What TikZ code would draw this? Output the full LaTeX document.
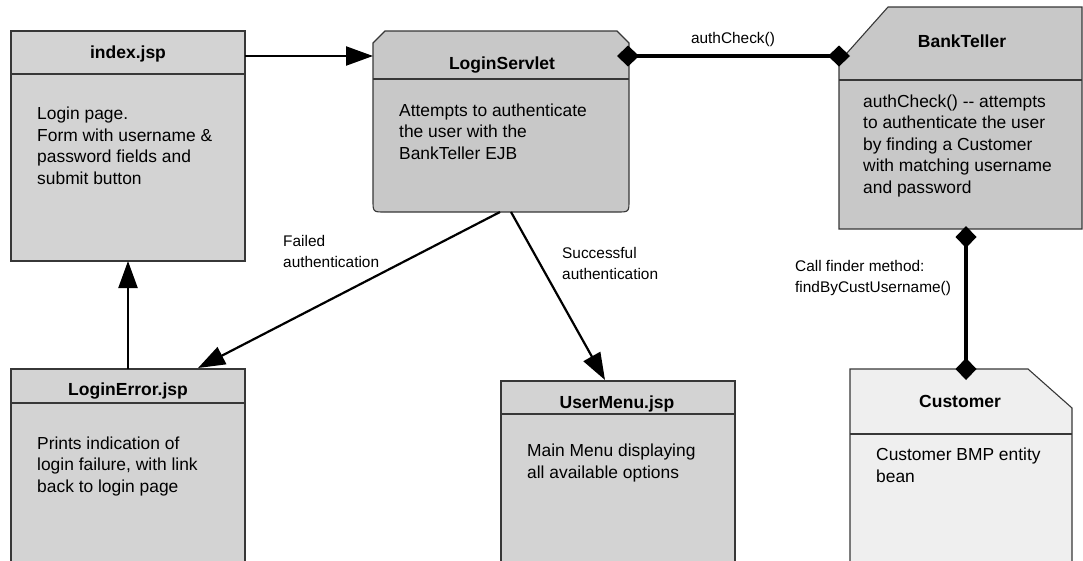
\documentclass[tikz,border=0pt]{standalone}
\usepackage{fontspec}
\setmainfont{Liberation Sans}
\usetikzlibrary{arrows.meta,calc}
\definecolor{boxA}{RGB}{211,211,211}
\definecolor{boxB}{RGB}{200,200,200}
\definecolor{boxC}{RGB}{239,239,239}
\definecolor{edge}{RGB}{55,55,55}
\begin{document}
\begin{tikzpicture}[x=1pt,y=-1pt,
 frame/.style={rectangle,inner sep=0pt,outer sep=0pt},
 boxline/.style={draw=edge,line width=1.1pt},
 title/.style={font=\fontsize{17.5}{21}\selectfont\bfseries,anchor=base,inner sep=0pt},
 body/.style={font=\fontsize{17.4}{21.5}\selectfont,align=left,anchor=base west,inner sep=0pt},
 lbl/.style={font=\fontsize{15.4}{20.5}\selectfont,align=left,anchor=base west,inner sep=0pt},
 arr/.style={line width=2.2pt,-{Triangle[length=27pt,width=19pt]}},
 dia/.style={line width=3.4pt,{Diamond[length=22pt,width=21pt]}-{Diamond[length=22pt,width=21pt]}}]
\useasboundingbox (0,0) rectangle (1083,560);
% invisible frames for naming
\node[frame,minimum width=234pt,minimum height=230pt] (index) at (128,146) {};
\node[frame,minimum width=256pt,minimum height=181pt] (ls) at (501,121.5) {};
\node[frame,minimum width=243pt,minimum height=222pt] (bt) at (960.5,118) {};
\node[frame,minimum width=234pt,minimum height=201pt] (le) at (128,469.5) {};
\node[frame,minimum width=234pt,minimum height=189pt] (um) at (618,475.5) {};
\node[frame,minimum width=222pt,minimum height=201pt] (cust) at (961,469.5) {};
% shapes
\draw[boxline,fill=boxA] (index.north west) rectangle (index.south east);
\draw[boxline] ($(index.north west)+(0,43)$) -- ($(index.north east)+(0,43)$);
\draw[boxline,fill=boxB] (373,43) -- (385,31) -- (617,31) -- (629,43) -- (629,200)
   .. controls (629,212) .. (617,212) -- (385,212) .. controls (373,212) .. (373,200) -- cycle;
\draw[boxline] ($(ls.north west)+(0,48)$) -- ($(ls.north east)+(0,48)$);
\draw[boxline,fill=boxB] (888,7) -- (1082,7) -- (1082,229) -- (839,229) -- (839,62) -- cycle;
\draw[boxline] ($(bt.north west)+(0,73)$) -- ($(bt.north east)+(0,73)$);
\draw[boxline,fill=boxA] (le.north west) rectangle (le.south east);
\draw[boxline] ($(le.north west)+(0,34)$) -- ($(le.north east)+(0,34)$);
\draw[boxline,fill=boxA] (um.north west) rectangle (um.south east);
\draw[boxline] ($(um.north west)+(0,33)$) -- ($(um.north east)+(0,33)$);
\draw[boxline,fill=boxC] (850,369) -- (1028,369) -- (1072,408) -- (1072,570) -- (850,570) -- cycle;
\draw[boxline] ($(cust.north west)+(0,65)$) -- (1072,434);
% titles
\node[title] (indexT) at (128,58) {index.jsp};
\node[title] (lsT) at (502,69) {LoginServlet};
\node[title] (btT) at (962,47) {BankTeller};
\node[title] (leT) at (128,395) {LoginError.jsp};
\node[title] (umT) at (617,408) {UserMenu.jsp};
\node[title] (custT) at (960,407) {Customer};
% bodies (anchored at the baseline of the last line)
\node[body] (indexB) at (37,184) {Login page.\\Form with username \&\\password fields and\\submit button};
\node[body] (lsB) at (399,159) {Attempts to authenticate\\the user with the\\BankTeller EJB};
\node[body] (btB) at (863,193) {authCheck() -{}- attempts\\to authenticate the user\\by finding a Customer\\with matching username\\and password};
\node[body] (leB) at (37,492) {Prints indication of\\login failure, with link\\back to login page};
\node[body] (umB) at (527,478) {Main Menu displaying\\all available options};
\node[body] (custB) at (876,482) {Customer BMP entity\\bean};
% connectors
\draw[arr] ($(index.north east)+(0,25)$) -- ($(ls.north west)+(0,25)$);
\draw[dia] ($(ls.north east)+(-12,25)$) -- ($(bt.north west)+(11,49)$);
\draw[dia] ($(bt.south)+(5.5,-3)$) -- ($(cust.north)+(5,11)$);
\draw[arr] ($(ls.south)+(-1,0)$) -- ($(le.north east)+(-47,-1)$);
\draw[arr] ($(ls.south)+(10,0)$) -- ($(um.north)+(-13,-1)$);
\draw[arr] (le.north) -- (index.south);
% labels
\node[lbl,anchor=base] (authL) at (733,43) {authCheck()};
\node[lbl] (failL) at (283,267) {Failed\\authentication};
\node[lbl] (succL) at (562,279) {Successful\\authentication};
\node[lbl] (callL) at (795,292) {Call finder method:\\findByCustUsername()};
\end{tikzpicture}
\end{document}
